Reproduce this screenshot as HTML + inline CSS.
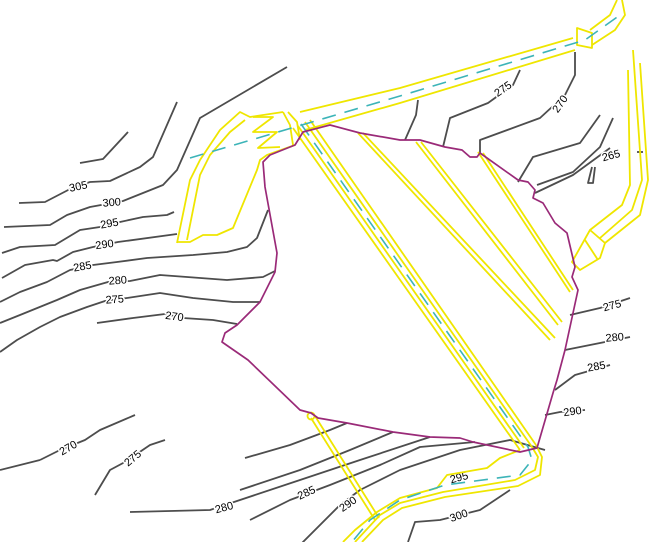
<!DOCTYPE html>
<html><head><style>html,body{margin:0;padding:0;background:#fff}svg{display:block}</style></head><body>
<svg width="650" height="542" viewBox="0 0 650 542" xmlns="http://www.w3.org/2000/svg">
<g fill="none" stroke="#4d4d4d" stroke-width="1.8" stroke-linejoin="round">
<path d="M80,163 L103,159 L128,132"/>
<path d="M19,203 L45,202 L72,188 L90,182 L110,181 L140,167 L153,157 L177,102"/>
<path d="M4,227 L50,225 L67,215 L90,207 L123,201 L143,193 L163,185 L177,170 L200,118 L287,67"/>
<path d="M2,253 L20,247 L55,245 L80,230 L100,227 L120,222 L143,217 L167,215 L174,212"/>
<path d="M2,278 L25,265 L53,260 L57,261 L73,252 L93,247 L118,242 L177,234"/>
<path d="M0,302 L20,292 L47,282 L70,270 L93,265 L117,262 L147,258 L193,255 L227,252 L247,247 L257,238 L268,210"/>
<path d="M0,323 L20,315 L57,300 L80,290 L108,282 L130,281 L160,275 L187,277 L227,280 L263,277 L275,271"/>
<path d="M0,352 L17,340 L40,327 L60,317 L87,307 L105,301 L127,298 L160,293 L193,298 L233,302 L260,302"/>
<path d="M97,323 L133,318 L165,314 L183,318 L213,320 L237,324"/>
<path d="M418,100 L416,115 L405,140"/>
<path d="M520,70 L513,85 L488,103 L450,118 L443,147"/>
<path d="M575,52 L575,75 L565,95 L540,118 L480,140 L480,153"/>
<path d="M600,115 L580,143 L533,157 L518,182"/>
<path d="M613,118 L600,147 L573,172 L537,185"/>
<path d="M610,148 L573,175 L535,193"/>
<path d="M637,152 L643,152"/>
<path d="M592,167 L588,183 L593,183 L595,167"/>
<path d="M570,315 L600,308 L630,298"/>
<path d="M565,350 L590,345 L630,337"/>
<path d="M555,390 L575,375 L610,365"/>
<path d="M545,415 L560,412 L585,410"/>
<path d="M40,460 L60,450 L85,440 L100,430 L135,415"/>
<path d="M95,495 L110,470 L125,462 L150,445 L165,440"/>
<path d="M245,458 L290,445 L330,430 L347,423"/>
<path d="M0,470 L40,460"/>
<path d="M240,490 L300,470 L350,450 L393,432"/>
<path d="M130,512 L210,510 L240,500 L300,480 L360,460 L430,437"/>
<path d="M250,520 L290,500 L330,485 L380,465 L420,447 L475,442"/>
<path d="M300,545 L340,505 L360,490 L400,470 L430,460 L460,450 L510,440 L545,450"/>
<path d="M408,542 L415,522 L440,520 L480,510 L510,490"/>
</g>
<g font-family="Liberation Sans, sans-serif" font-size="11" fill="#000" stroke="#fff" stroke-width="3" paint-order="stroke" text-anchor="middle">
<text transform="translate(79,190) rotate(-12)">305</text>
<text transform="translate(112,206) rotate(-5)">300</text>
<text transform="translate(110,227) rotate(-10)">295</text>
<text transform="translate(105,248) rotate(-8)">290</text>
<text transform="translate(83,270) rotate(-10)">285</text>
<text transform="translate(118,284) rotate(-4)">280</text>
<text transform="translate(115,303) rotate(-4)">275</text>
<text transform="translate(174,320) rotate(8)">270</text>
<text transform="translate(505,92) rotate(-35)">275</text>
<text transform="translate(563,106) rotate(-55)">270</text>
<text transform="translate(612,159) rotate(-15)">265</text>
<text transform="translate(613,309) rotate(-15)">275</text>
<text transform="translate(615,341) rotate(-5)">280</text>
<text transform="translate(597,370) rotate(-10)">285</text>
<text transform="translate(573,415) rotate(-8)">290</text>
<text transform="translate(70,451) rotate(-30)">270</text>
<text transform="translate(135,461) rotate(-40)">275</text>
<text transform="translate(225,511) rotate(-15)">280</text>
<text transform="translate(308,496) rotate(-25)">285</text>
<text transform="translate(350,507) rotate(-35)">290</text>
<text transform="translate(460,481) rotate(-15)">295</text>
<text transform="translate(460,519) rotate(-20)">300</text>
</g>
<g fill="none" stroke="#efe600" stroke-width="1.8" stroke-linejoin="round">
<path d="M300,112 L400,88 L573,38"/>
<path d="M305,130 L400,103 L575,50"/>
<path d="M577,28 L592,33 L592,48 L577,45 Z"/>
<path d="M590,30 L610,15 L617,0"/>
<path d="M592,45 L615,30 L625,15 L622,0"/>
<path d="M177,243 L190,180 L200,160 L220,130 L240,112 L250,117 L283,112"/>
<path d="M187,240 L200,175 L210,155 L230,132 L245,120"/>
<path d="M177,242 L190,242 L203,235 L217,235 L233,228 L257,170 L260,160 L267,155 L295,145"/>
<path d="M253,117 L273,117 L253,132 L277,132 L258,148 L280,147"/>
<path d="M283,112 L290,125 L293,145 M288,112 L297,122 L300,140"/>
<path d="M293,128 L520,450"/>
<path d="M298,126 L524,448"/>
<path d="M305,122 L532,447"/>
<path d="M310,120 L536,445"/>
<path d="M520,450 L500,458 L487,468 L447,475 L437,488 L400,498 L377,512 L355,530 L343,542"/>
<path d="M532,447 L538,457 L535,470 L515,480 L443,492 L400,503 L380,515 L355,542"/>
<path d="M536,445 L542,457 L540,475 L518,486 L445,497 L402,508 L383,520 L362,542"/>
<path d="M311,418 L375,520 M315,416 L379,518"/>
<circle cx="311" cy="416" r="3.5"/>
<path d="M358,133 L550,340 M363,133 L555,338"/>
<path d="M416,142 L558,325 M421,142 L562,322"/>
<path d="M478,152 L570,292 M483,153 L573,290"/>
<path d="M633,50 L642,180 L632,210 L600,238"/>
<path d="M628,70 L630,185 L622,205 L590,230"/>
<path d="M640,63 L648,180 L640,215 L605,243"/>
<path d="M572,262 L590,230 L605,243 L600,258 L580,270 Z"/>
<path d="M585,240 L598,260"/>
</g>
<g fill="none" stroke="#3cb4b8" stroke-width="1.6" stroke-dasharray="14,9">
<path d="M190,158 L400,96 L585,40 L620,15"/>
<path d="M301,124 L528,447 L532,460 L520,475 L445,485 L400,500 L370,520 L352,542"/>
</g>
<path fill="none" stroke="#9a2a78" stroke-width="1.7" stroke-linejoin="round" d="M330,125 L303,132 L295,145 L270,155 L263,162 L265,187 L277,253 L275,272 L260,302 L237,325 L225,333 L222,342 L248,360 L300,410 L311,413 L318,418 L347,423 L393,432 L430,437 L460,438 L473,442 L520,452 L537,448 L553,393 L557,380 L565,350 L578,290 L572,277 L575,267 L567,233 L555,223 L543,203 L533,198 L535,190 L528,182 L518,180 L480,153 L477,157 L470,157 L462,150 L445,147 L420,140 L400,140 L360,133 Z"/>
</svg>
</body></html>
